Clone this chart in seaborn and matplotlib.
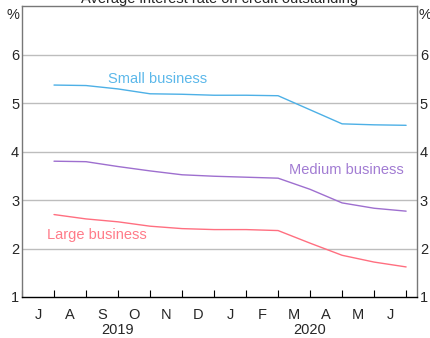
import matplotlib
matplotlib.use("Agg")
import matplotlib.pyplot as plt
import seaborn as sns
import pandas as pd

# Month-end observations, Jul 2019 to Jun 2020
months = ["J", "A", "S", "O", "N", "D", "J", "F", "M", "A", "M", "J"]
small_business = [5.37, 5.36, 5.29, 5.19, 5.18, 5.16, 5.16, 5.15, 4.86, 4.57, 4.55, 4.54]
medium_business = [3.80, 3.79, 3.69, 3.60, 3.52, 3.49, 3.47, 3.45, 3.22, 2.94, 2.83, 2.77]
large_business = [2.70, 2.61, 2.55, 2.46, 2.41, 2.39, 2.39, 2.37, 2.11, 1.86, 1.72, 1.62]
years = ["2019", "2020"]
y_ticks = [1, 2, 3, 4, 5, 6]

colors = {"Small business": "#4DB0E6", "Medium business": "#9E6FCF", "Large business": "#FF6F80"}
label_colors = {"Small business": "#5CB8EA", "Medium business": "#A27CD3", "Large business": "#FF7B89"}

pos = list(range(1, len(months) + 1))
df = pd.DataFrame({
    "pos": pos * 3,
    "rate": small_business + medium_business + large_business,
    "series": ["Small business"] * 12 + ["Medium business"] * 12 + ["Large business"] * 12,
})

sns.set_theme(style="white")
plt.rcParams["font.family"] = ["Liberation Sans", "DejaVu Sans"]
FS = 10.5

fig = plt.figure(figsize=(4.31, 3.38), dpi=100)
ax = fig.add_axes([22 / 431, 1 - 297 / 338, (417 - 22) / 431, (297 - 6) / 338])

for y in y_ticks[1:]:
    ax.axhline(y, color="#BDBDBD", lw=1.0, zorder=0)

sns.lineplot(data=df, x="pos", y="rate", hue="series", palette=colors,
             linewidth=1.0, legend=False, ax=ax, zorder=3)

ax.set_xlim(0, 12.34)
ax.set_ylim(1, 7)
ax.set_xlabel("")
ax.set_ylabel("")

# Month ticks inside the bottom axis, labels centred between ticks
ax.set_xticks(range(0, 13))
ax.set_xticklabels([])
ax.tick_params(axis="x", direction="in", length=5, width=0.8, color="black", bottom=True)
for i, m in enumerate(months):
    ax.text(i + 0.5, -0.037, m, transform=ax.get_xaxis_transform(), ha="center", va="top", fontsize=FS)
for i, yr in enumerate(years):
    ax.text(3 + 6 * i, -0.09, yr, transform=ax.get_xaxis_transform(), ha="center", va="top", fontsize=FS)

# Y axis labelled on both sides
ax.set_yticks(y_ticks)
ax.set_yticklabels([str(v) for v in y_ticks], fontsize=FS)
ax.tick_params(axis="y", length=0, pad=2, labelleft=True, labelright=True, left=False, right=False)
ax.text(-0.007, 0.968, "%", transform=ax.transAxes, ha="right", va="center", fontsize=FS)
ax.text(1.005, 0.968, "%", transform=ax.transAxes, ha="left", va="center", fontsize=FS)

for side in ["left", "right", "top"]:
    ax.spines[side].set_color("#777777")
    ax.spines[side].set_linewidth(1.0)
ax.spines["bottom"].set_color("black")
ax.spines["bottom"].set_linewidth(1.0)

# Series labels
ax.text(4.24, 5.50, "Small business", color=label_colors["Small business"], ha="center", va="center", fontsize=FS)
ax.text(10.14, 3.62, "Medium business", color=label_colors["Medium business"], ha="center", va="center", fontsize=FS)
ax.text(2.35, 2.28, "Large business", color=label_colors["Large business"], ha="center", va="center", fontsize=FS)

fig.text(0.51, 1 - 3 / 338, "Average interest rate on credit outstanding", ha="center", va="baseline", fontsize=FS)

fig.savefig("out.png", dpi=100)
